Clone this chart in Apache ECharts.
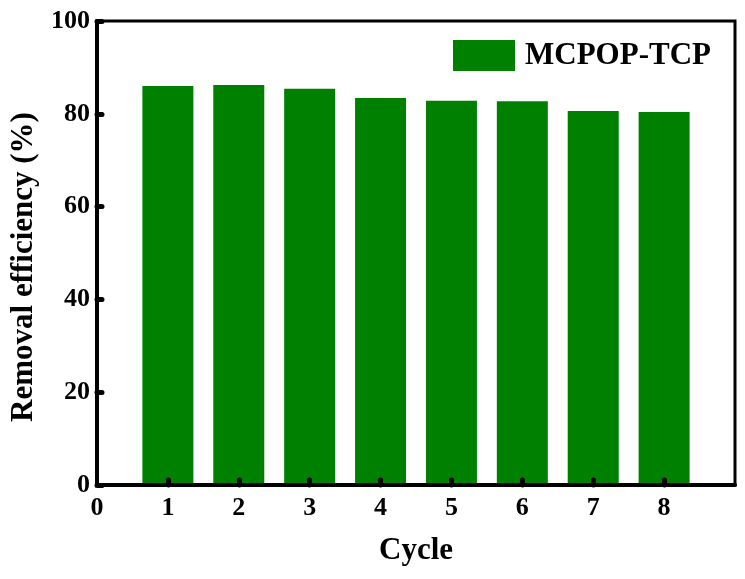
<!DOCTYPE html>
<html><head><meta charset="utf-8">
<script src="https://cdn.jsdelivr.net/npm/echarts@6/dist/echarts.min.js"></script>
<style>html,body{margin:0;padding:0;background:#fff}#c{width:745px;height:579px}</style>
</head><body><div id="c"></div>
<script>
const cycles = [1, 2, 3, 4, 5, 6, 7, 8];
const efficiency = [86.0, 86.2, 85.4, 83.4, 82.8, 82.7, 80.6, 80.4];
const seriesName = 'MCPOP-TCP';
const xTitle = 'Cycle';
const yTitle = 'Removal efficiency (%)';

const font = '"Liberation Serif", "Times New Roman", serif';
const chart = echarts.init(document.getElementById('c'));
chart.setOption({
  animation: false,
  grid: { left: 97, right: 10, top: 21, bottom: 94, show: true, borderColor: '#000', borderWidth: 3, backgroundColor: 'transparent' },
  legend: {
    left: 448, top: 35, itemWidth: 62, itemHeight: 31, itemGap: 10,
    icon: 'rect',
    textStyle: { fontFamily: font, fontWeight: 'bold', fontSize: 31, color: '#000', padding: [0, 0, 0, 5] },
    data: [seriesName]
  },
  xAxis: {
    type: 'value', min: 0, max: 9, interval: 1, z: 5,
    name: xTitle, nameLocation: 'middle', nameGap: 50,
    nameTextStyle: { fontFamily: font, fontWeight: 'bold', fontSize: 31, color: '#000' },
    axisLine: { lineStyle: { color: '#000', width: 4 } },
    axisTick: { inside: true, length: 5, customValues: cycles, lineStyle: { color: '#000', width: 5, cap: 'round' } },
    axisLabel: { fontFamily: font, fontWeight: 'bold', fontSize: 26, color: '#000', margin: 10,
      formatter: v => (v >= 9 ? '' : String(v)) },
    splitLine: { show: false }
  },
  yAxis: {
    type: 'value', min: 0, max: 100, interval: 20, z: 5,
    name: yTitle, nameLocation: 'middle', nameGap: 58,
    nameTextStyle: { fontFamily: font, fontWeight: 'bold', fontSize: 31, color: '#000', padding: [0, 28, 0, 0] },
    axisLine: { lineStyle: { color: '#000', width: 4 } },
    axisTick: { inside: true, length: 5, lineStyle: { color: '#000', width: 5, cap: 'round' } },
    axisLabel: { fontFamily: font, fontWeight: 'bold', fontSize: 26, color: '#000', margin: 7 },
    splitLine: { show: false }
  },
  series: [{
    name: seriesName, type: 'bar', barWidth: 51,
    itemStyle: { color: '#008000' },
    data: cycles.map((c, i) => [c, efficiency[i]])
  }]
});
</script></body></html>
